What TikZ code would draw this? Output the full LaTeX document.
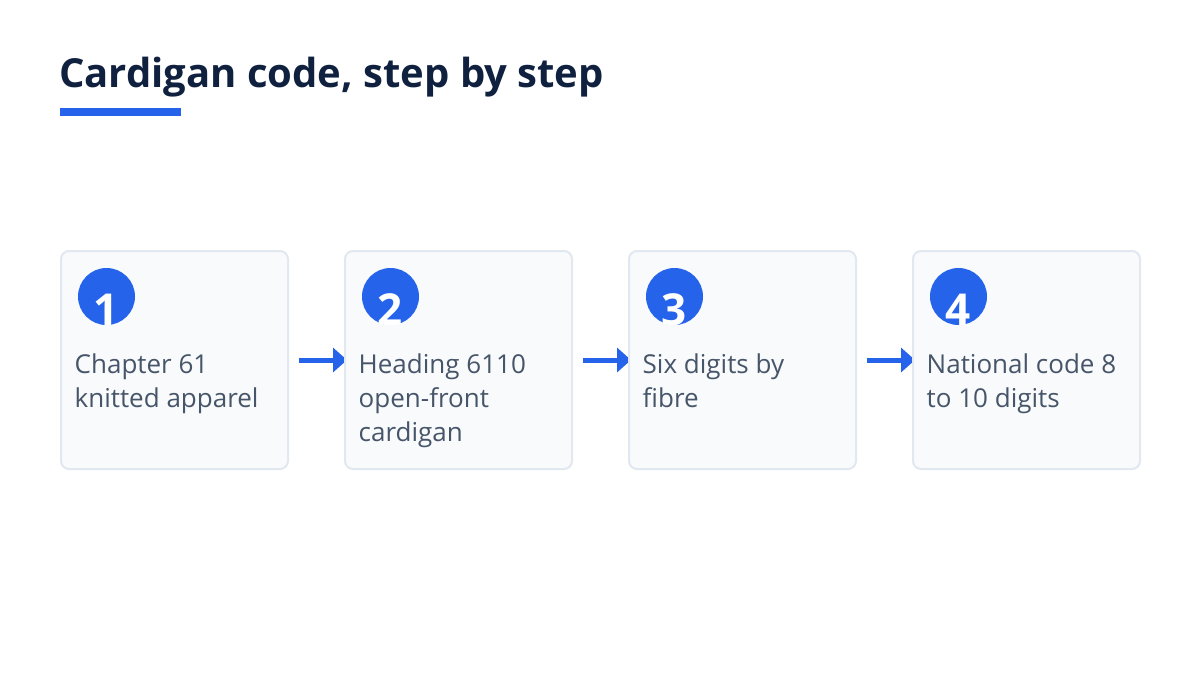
\documentclass[tikz,border=0pt]{standalone}
\usepackage{fontspec}
\setmainfont{Open Sans}
\usetikzlibrary{arrows.meta}
\definecolor{accent}{HTML}{2563EB}
\definecolor{titlec}{HTML}{10213F}
\definecolor{bodyc}{HTML}{475569}
\definecolor{boxfill}{HTML}{F8FAFC}
\definecolor{boxline}{HTML}{E2E8F0}
\pgfdeclarelayer{back}
\pgfdeclarelayer{bg}
\pgfsetlayers{back,bg,main}
\tikzset{
  stepbox/.style={draw=boxline, fill=boxfill, line width=2pt, rounded corners=8pt,
    minimum width=227pt, minimum height=218pt, inner sep=0pt},
  badge/.style={circle, fill=accent, minimum size=57pt, inner sep=0pt},
  badgenum/.style={text=white, font=\fontsize{44}{44}\selectfont\bfseries, inner sep=0pt, anchor=base},
  steptext/.style={text=bodyc, font=\fontsize{26}{34}\selectfont, align=left, inner sep=0pt, anchor=north west},
  flow/.style={draw=accent, line width=5pt, -{Triangle[length=14pt,width=24pt]}, shorten <=10pt, shorten >=-3pt},
}
\begin{document}
\begin{tikzpicture}[x=1pt,y=-1pt]
\useasboundingbox (0,0) rectangle (1200,675);
\begin{pgfonlayer}{back}
\fill[white] (0,0) rectangle (1200,675);
\end{pgfonlayer}
\node[text=titlec, font=\fontsize{40}{44}\selectfont\bfseries, anchor=base west, inner sep=0pt] (title) at (59,87) {Cardigan code, step by step};
\fill[accent] (60,108) rectangle (181,116);
\foreach \i/\x/\txt in {1/174.5/{Chapter 61\\knitted apparel},2/458.5/{Heading 6110\\open-front\\cardigan},3/742.5/{Six digits by\\fibre},4/1026.5/{National code 8\\to 10 digits}}{
  \node[stepbox] (b\i) at (\x,360) {};
  \node[badge] (c\i) at (\x-68,296.5) {};
  \begin{scope}
    \clip (c\i.center) circle[radius=28.5];
    \node[badgenum] (n\i) at (\x-68,325) {\i};
  \end{scope}
  \node[steptext] (t\i) at (\x-100,347) {\vrule height 26pt width 0pt\txt};
}
\begin{pgfonlayer}{bg}
\draw[flow] (b1) -- (b2);
\draw[flow] (b2) -- (b3);
\draw[flow] (b3) -- (b4);
\end{pgfonlayer}
\end{tikzpicture}
\end{document}
